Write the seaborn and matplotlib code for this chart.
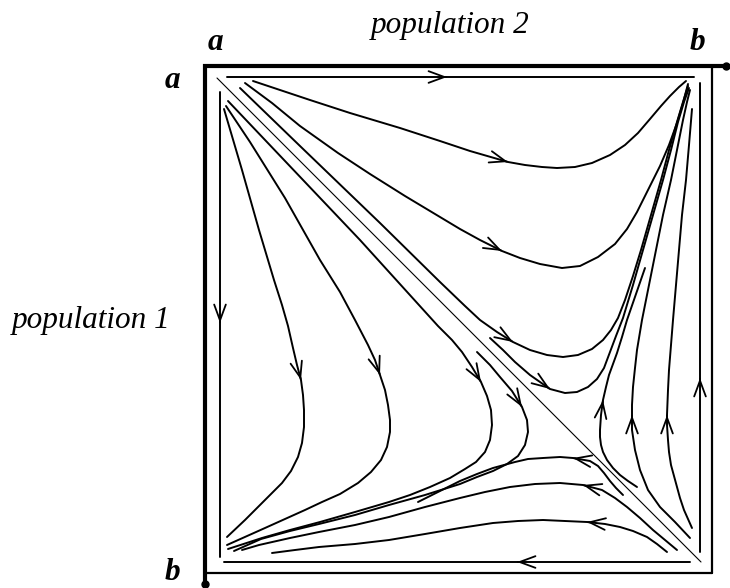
import numpy as np
import matplotlib
matplotlib.use("Agg")
import matplotlib.pyplot as plt
import seaborn as sns

# Phase portrait of a two-population game.
# Points are read off the picture, measured from the corner (a, a) in units
# where one side of the square is SIDE long.
# x: share of b in population 2 (a on the left, b on the right)
# y: share of b in population 1 (a at the top, b at the bottom)
SIDE = 507

# trajectories from corner (a, a) bending towards (a, b)
t1_x = [48, 75, 105, 145, 195, 235, 265, 303, 320, 337, 352, 370, 387, 405, 420, 433, 445, 456, 465, 474, 481]
t1_y = [15, 24, 34, 47, 62, 75, 85, 96, 99, 101, 102, 101, 97, 89, 79, 67, 53, 40, 30, 21, 15]
t2_x = [40, 67, 95, 133, 165, 200, 230, 255, 275, 297, 315, 335, 357, 375, 393, 410, 422, 432, 443, 455, 464, 472, 478, 483]
t2_y = [17, 37, 60, 87, 108, 130, 148, 163, 174, 185, 192, 198, 202, 200, 191, 178, 163, 146, 124, 100, 79, 57, 37, 18]
t3_x = [35, 95, 175, 235, 260, 275, 292, 308, 325, 342, 358, 373, 387, 398, 406, 413, 420, 428, 436, 446, 456, 464, 472, 478, 483]
t3_y = [22, 80, 157, 216, 240, 254, 266, 276, 284, 289, 291, 289, 283, 274, 264, 252, 234, 210, 184, 149, 114, 84, 56, 36, 20]
t4_x = [285, 298, 310, 325, 345, 360, 372, 383, 392, 399, 405, 411, 418, 428, 438, 448, 458, 466, 473, 479, 484]
t4_y = [272, 284, 296, 309, 323, 327, 326, 321, 313, 302, 286, 270, 252, 219, 184, 149, 114, 84, 56, 36, 22]

# trajectories from corner (b, b) going up towards (a, b)
r1_x = [432, 423, 415, 408, 402, 398, 396, 395, 395, 396, 398, 401, 404, 408, 412, 417, 422, 431, 440]
r1_y = [421, 415, 409, 402, 394, 386, 379, 371, 364, 349, 334, 321, 309, 298, 287, 271, 254, 228, 202]
r2_x = [485, 470, 455, 443, 435, 430, 427, 427, 427, 428, 430, 432, 437, 444, 451, 458, 466, 472, 478, 482, 485]
r2_y = [472, 456, 441, 424, 404, 384, 364, 349, 339, 321, 302, 284, 254, 219, 184, 149, 114, 84, 54, 36, 24]
r3_x = [487, 483, 479, 475, 472, 469, 466, 464, 463, 462, 462, 463, 464, 466, 468, 471, 474, 477, 481, 484, 487]
r3_y = [462, 453, 444, 432, 421, 410, 399, 386, 374, 359, 349, 324, 304, 279, 254, 219, 184, 149, 114, 79, 43]

# trajectories from corner (a, a) bending towards (b, a)
l1_x = [19, 37, 54, 69, 77, 83, 88, 92, 96, 98, 99, 99, 97, 93, 86, 77, 67, 57, 40, 22]
l1_y = [43, 104, 164, 214, 239, 260, 282, 299, 314, 329, 344, 361, 377, 391, 405, 417, 427, 437, 454, 471]
l2_x = [21, 45, 80, 115, 135, 150, 163, 170, 175, 180, 183, 185, 185, 182, 176, 166, 153, 135, 117, 100, 60, 22]
l2_y = [40, 76, 132, 194, 226, 254, 279, 294, 309, 324, 339, 354, 366, 381, 394, 406, 417, 428, 436, 444, 462, 479]
l3_x = [23, 80, 155, 233, 247, 257, 267, 276, 282, 286, 287, 285, 280, 271, 260, 245, 225, 205, 184, 150, 115, 85, 57, 23]
l3_y = [35, 95, 174, 260, 274, 286, 301, 316, 330, 344, 359, 374, 386, 396, 403, 412, 421, 429, 436, 446, 456, 464, 472, 483]
l4_x = [272, 285, 295, 307, 317, 322, 323, 320, 313, 302, 288, 272, 255, 220, 184, 150, 114, 85, 56, 29]
l4_y = [286, 299, 311, 325, 341, 354, 366, 379, 390, 398, 405, 411, 418, 429, 439, 449, 458, 465, 473, 485]

# trajectories from corner (b, b) going left towards (b, a)
b1_x = [418, 411, 405, 399, 393, 385, 368, 355, 338, 323, 310, 288, 272, 255, 235, 213]
b1_y = [429, 422, 415, 407, 400, 395, 392, 391, 392, 393, 396, 402, 408, 415, 425, 436]
b2_x = [472, 460, 448, 435, 422, 410, 397, 378, 355, 330, 305, 280, 255, 220, 184, 150, 114, 85, 54, 37]
b2_y = [484, 474, 464, 452, 441, 432, 424, 419, 417, 418, 421, 426, 432, 441, 451, 459, 466, 472, 479, 484]
b3_x = [462, 452, 442, 428, 415, 400, 382, 360, 338, 313, 288, 255, 220, 184, 150, 114, 90, 67]
b3_y = [486, 478, 471, 465, 461, 458, 456, 455, 454, 455, 457, 462, 468, 474, 478, 481, 484, 487]

# flows along the edges (start, arrow, end)
top_x = [22, 242, 489]
top_y = [11, 11, 11]
left_x = [15, 15, 15]
left_y = [26, 257, 491]
right_x = [495, 495, 495]
right_y = [486, 312, 17]
bottom_x = [485, 312, 19]
bottom_y = [496, 496, 496]

# the diagonal separatrix
diag_x = [12, 496]
diag_y = [12, 496]

# (x, y, index of arrow tip)
curves = [
    (t1_x, t1_y, 7), (t2_x, t2_y, 9), (t3_x, t3_y, 7), (t4_x, t4_y, 4),
    (r1_x, r1_y, 10), (r2_x, r2_y, 7), (r3_x, r3_y, 10),
    (l1_x, l1_y, 8), (l2_x, l2_y, 8), (l3_x, l3_y, 7), (l4_x, l4_y, 4),
    (b1_x, b1_y, 6), (b2_x, b2_y, 7), (b3_x, b3_y, 6),
    (top_x, top_y, 1), (left_x, left_y, 1), (right_x, right_y, 1), (bottom_x, bottom_y, 1),
]


def draw_arrow(ax, xs, ys, i):
    tip = np.array([xs[i], ys[i]])
    back = np.array([xs[i - 1], ys[i - 1]])
    d = (tip - back) / np.hypot(*(tip - back))
    ax.annotate("", xy=tip, xytext=tip - 0.002 * d,
                arrowprops=dict(arrowstyle="->,head_length=0.95,head_width=0.35",
                                lw=1.3, color="black", shrinkA=0, shrinkB=0))


sns.set_theme(style="white")
plt.rcParams['font.family'] = ['Liberation Serif', 'DejaVu Serif']

fig = plt.figure(figsize=(7.3, 5.88), dpi=100)
ax = fig.add_axes([205 / 730, 15 / 588, 507 / 730, 507 / 588])
ax.set_xlim(0, 1)
ax.set_ylim(1, 0)
ax.axis("off")

for xs, ys, i in curves:
    xs = np.array(xs) / SIDE
    ys = np.array(ys) / SIDE
    sns.lineplot(x=xs, y=ys, sort=False, estimator=None, color="black",
                 linewidth=1.4, ax=ax)
    draw_arrow(ax, xs, ys, i)

sns.lineplot(x=np.array(diag_x) / SIDE, y=np.array(diag_y) / SIDE, sort=False,
             estimator=None, color="black", linewidth=0.8, ax=ax)

# outer frame: thick axes for the two populations, thin far sides
ax.plot([-0.004, 1.028], [0, 0], color="black", lw=3.0, clip_on=False, solid_capstyle="butt")
ax.plot([0, 0], [-0.004, 1.022], color="black", lw=3.0, clip_on=False, solid_capstyle="butt")
ax.plot([1.028], [0], "o", color="black", ms=5, clip_on=False)
ax.plot([0], [1.022], "o", color="black", ms=5, clip_on=False)
ax.plot([1.0, 1.0], [0, 1.0], color="black", lw=1.6, clip_on=False)
ax.plot([0, 1.0], [1.0, 1.0], color="black", lw=1.6, clip_on=False)

lab = dict(fontsize=22.5, style="italic", ha="center", va="center", color="black")
fig.text(450 / 730, 1 - 25 / 588, "population 2", **lab)
fig.text(91 / 730, 1 - 320 / 588, "population 1", **lab)
fig.text(215 / 730, 1 - 42 / 588, "a", fontweight="bold", **lab)
fig.text(697 / 730, 1 - 42 / 588, "b", fontweight="bold", **lab)
fig.text(172 / 730, 1 - 80 / 588, "a", fontweight="bold", **lab)
fig.text(172 / 730, 1 - 572 / 588, "b", fontweight="bold", **lab)

fig.savefig("out.png", dpi=100, facecolor="white")
